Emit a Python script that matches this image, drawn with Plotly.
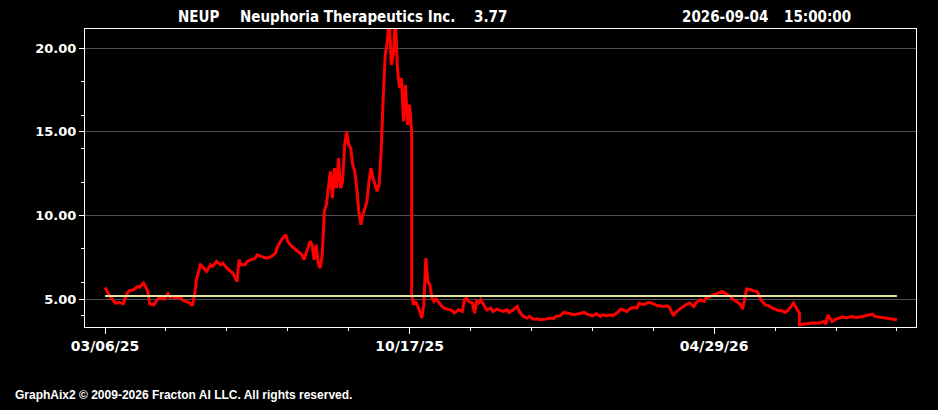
import plotly.graph_objects as go

# ---- text content ----
ticker = "NEUP"
company = "Neuphoria Therapeutics Inc."
last_price = "3.77"
stamp_date = "2026-09-04"
stamp_time = "15:00:00"
copyright_text = "GraphAix2 © 2009-2026 Fracton AI LLC. All rights reserved."

# ---- series (bar index, price) ----
bars = [
    0, 2, 5, 7, 9, 11, 12, 14, 16, 17, 19, 21, 22, 24, 26, 27, 29, 31, 32, 33,
    35, 37, 38, 40, 42, 43, 44, 45, 47, 48, 50, 52, 53, 55, 57, 58, 60, 62, 63, 65,
    66, 67, 69, 70, 72, 74, 75, 77, 79, 80, 82, 84, 85, 87, 89, 90, 92, 94, 95, 97,
    98, 99, 101, 102, 103, 104, 105, 106, 107, 108, 109, 111, 112, 113, 114, 115, 116, 117, 118, 119,
    120, 121, 122, 123, 124, 125, 126, 127, 129, 130, 131, 132, 134, 135, 136, 137, 138, 139, 140, 141,
    142, 143, 144, 145, 146, 147, 148, 149, 150, 151, 151, 152, 153, 155, 156, 157, 158, 159, 160, 161,
    162, 163, 165, 166, 167, 169, 171, 172, 174, 176, 177, 178, 179, 181, 182, 183, 184, 185, 187, 188,
    190, 191, 193, 194, 196, 198, 199, 201, 203, 204, 206, 208, 209, 211, 213, 214, 216, 217, 219, 221,
    222, 224, 226, 227, 229, 231, 232, 234, 236, 237, 239, 240, 242, 244, 245, 247, 249, 250, 252, 254,
    255, 257, 259, 260, 262, 263, 265, 267, 268, 270, 272, 273, 275, 277, 278, 280, 281, 283, 285, 286,
    288, 290, 291, 293, 295, 296, 298, 300, 302, 304, 306, 308, 309, 311, 313, 314, 315, 316, 318, 319,
    321, 322, 323, 325, 327, 328, 330, 332, 333, 335, 336, 338, 339, 341, 342, 342, 344, 345, 347, 349,
    350, 352, 354, 355, 356, 357, 358, 360, 362, 363, 365, 367, 368, 370, 372, 373, 375, 378, 379, 381,
    382, 384, 386, 387, 389, 390,
]
prices = [
    5.69, 5.25, 4.76, 4.80, 4.72, 5.36, 5.50, 5.55, 5.75, 5.70, 5.96, 5.50, 4.72, 4.65, 5.00, 5.10, 5.00, 5.32, 5.10, 5.15,
    5.05, 5.15, 4.95, 4.85, 4.75, 4.60, 5.15, 6.15, 7.05, 6.95, 6.65, 7.05, 6.95, 7.25, 7.05, 7.15, 6.85, 6.65, 6.55, 6.05,
    7.35, 7.05, 7.05, 7.25, 7.35, 7.45, 7.65, 7.55, 7.45, 7.45, 7.55, 7.75, 8.15, 8.55, 8.85, 8.45, 8.15, 7.95, 7.85, 7.65,
    7.35, 7.75, 8.45, 8.25, 7.35, 8.25, 7.15, 6.85, 7.65, 10.24, 10.64, 12.63, 11.04, 12.83, 11.64, 13.43, 11.64, 12.03, 14.23, 15.02,
    14.23, 14.03, 13.03, 12.63, 11.64, 10.24, 9.44, 10.04, 10.84, 12.03, 12.83, 12.24, 11.44, 11.84, 13.83, 17.00, 19.61, 20.41, 21.80, 19.00,
    19.61, 21.80, 18.82, 17.62, 18.22, 15.62, 17.80, 15.42, 16.62, 15.02, 5.26, 4.66, 4.86, 4.26, 3.86, 4.66, 7.45, 6.05, 5.86, 5.06,
    4.86, 5.00, 4.66, 4.56, 4.46, 4.40, 4.32, 4.16, 4.36, 4.26, 4.96, 5.06, 4.86, 4.76, 4.16, 4.86, 4.76, 4.96, 4.56, 4.36,
    4.46, 4.26, 4.40, 4.36, 4.26, 4.36, 4.20, 4.36, 4.56, 4.26, 3.96, 3.86, 3.96, 3.80, 3.82, 3.76, 3.76, 3.80, 3.86, 3.84,
    3.96, 4.00, 4.20, 4.16, 4.12, 4.06, 4.08, 4.12, 4.20, 4.12, 4.06, 4.00, 4.12, 3.96, 4.06, 4.00, 4.06, 4.00, 4.16, 4.40,
    4.36, 4.26, 4.46, 4.50, 4.46, 4.76, 4.66, 4.76, 4.80, 4.72, 4.60, 4.60, 4.56, 4.60, 4.50, 4.00, 4.20, 4.40, 4.56, 4.66,
    4.76, 4.56, 4.76, 4.96, 4.86, 5.06, 5.16, 5.26, 5.36, 5.46, 5.30, 5.16, 5.00, 4.86, 4.66, 4.40, 4.96, 5.60, 5.56, 5.50,
    5.46, 5.26, 4.96, 4.66, 4.60, 4.50, 4.40, 4.30, 4.32, 4.20, 4.30, 4.56, 4.76, 4.40, 4.16, 3.46, 3.50, 3.50, 3.56, 3.58,
    3.56, 3.58, 3.66, 3.50, 4.06, 3.86, 3.66, 3.80, 3.86, 3.92, 3.88, 3.92, 3.96, 3.90, 3.92, 3.96, 4.02, 4.10, 3.96, 3.92,
    3.92, 3.86, 3.86, 3.82, 3.80, 3.77,
]

# reference (average) level
ref_level = 5.18
ref_bars = [0, 390]

# axes
x_tick_bars = [0, 150, 300]
x_tick_labels = ["03/06/25", "10/17/25", "04/29/26"]
x_minor_step = 30
y_tick_vals = [5, 10, 15, 20]
y_tick_labels = ["5.00", "10.00", "15.00", "20.00"]
x_range = [-9.85, 399.4]
y_range = [3.33, 21.15]

# ---- layout geometry ----
W, H = 938, 410
L, R, T, B = 85, 22, 29, 83
PW, PH = W - L - R, H - T - B


def px_x(p):
    return (p - L) / PW


def px_y(p):
    return (H - B - p) / PH


fig = go.Figure()
fig.add_trace(go.Scatter(
    x=bars, y=prices, mode="lines",
    line=dict(color="#ff0000", width=3),
    hoverinfo="skip", showlegend=False,
))
fig.add_trace(go.Scatter(
    x=ref_bars, y=[ref_level, ref_level], mode="lines",
    line=dict(color="#e4e4a0", width=2),
    hoverinfo="skip", showlegend=False,
))

x_tick_font = dict(family="DejaVu Sans", size=14, color="white", weight="bold")
y_tick_font = dict(family="DejaVu Sans", size=13, color="white", weight="bold")

fig.update_layout(
    width=W, height=H,
    margin=dict(l=L, r=R, t=T, b=B),
    paper_bgcolor="black", plot_bgcolor="black",
    showlegend=False,
    xaxis=dict(
        range=x_range, tickmode="array", tickvals=x_tick_bars, ticktext=x_tick_labels,
        ticks="outside", ticklen=6, tickwidth=1, tickcolor="white",
        tickfont=x_tick_font, showgrid=False, zeroline=False,
        showline=True, linecolor="white", linewidth=1, mirror=True,
        minor=dict(dtick=x_minor_step, tick0=0, ticks="outside", ticklen=3,
                   tickcolor="white", showgrid=False),
    ),
    yaxis=dict(
        range=y_range, tickmode="array", tickvals=y_tick_vals, ticktext=y_tick_labels,
        ticks="outside", ticklen=5, tickwidth=1, tickcolor="white",
        tickfont=y_tick_font, showgrid=True, gridcolor="#505050", gridwidth=1,
        zeroline=False,
        showline=True, linecolor="white", linewidth=1, mirror=True,
        minor=dict(dtick=2, tick0=0, ticks="outside", ticklen=3,
                   tickcolor="white", showgrid=False),
    ),
)

title_font = dict(family="Liberation Sans Narrow, DejaVu Sans Condensed, Roboto Condensed, Liberation Sans",
                  size=15, color="white", weight="bold")
title_items = [
    (ticker, 176),
    (company, 238),
    (last_price, 472),
    (stamp_date, 680),
    (stamp_time, 782),
]
for txt, xp in title_items:
    fig.add_annotation(
        text=txt, xref="paper", yref="paper", x=px_x(xp), y=px_y(17),
        xanchor="left", yanchor="middle", showarrow=False, font=title_font,
    )

fig.add_annotation(
    text=copyright_text, xref="paper", yref="paper", x=px_x(13), y=px_y(395),
    xanchor="left", yanchor="middle", showarrow=False,
    font=dict(family="Liberation Sans", size=12, color="white", weight="bold"),
)

fig.write_html("out.html")
